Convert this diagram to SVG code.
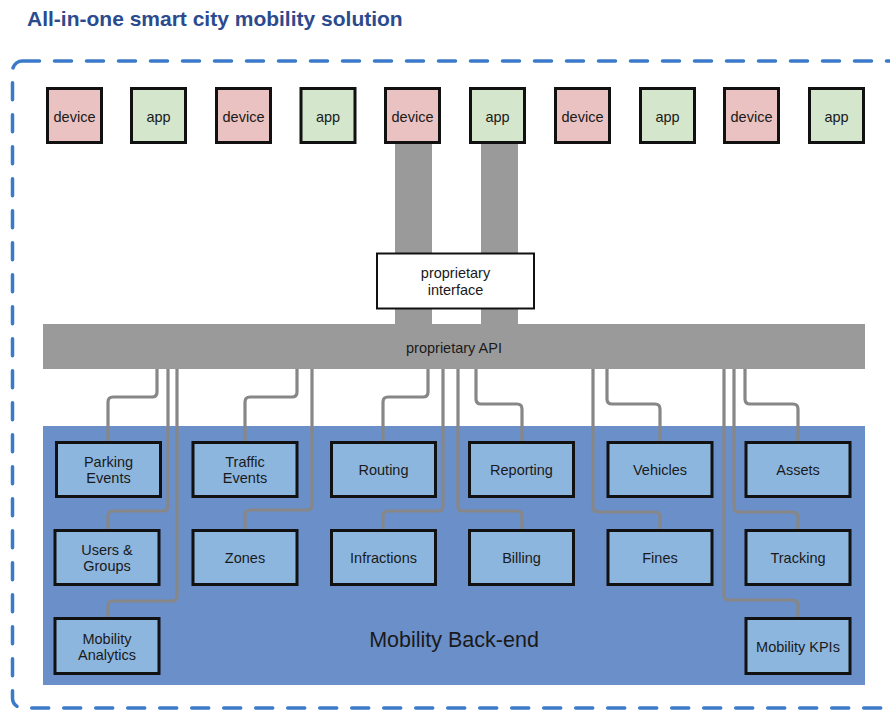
<svg xmlns="http://www.w3.org/2000/svg" width="890" height="711" viewBox="0 0 890 711">
<style>
text{font-family:"Liberation Sans",Arial,sans-serif;fill:#1a1a1a;text-anchor:middle}
.title{font-weight:bold;font-size:21px;fill:#2b4b8e;text-anchor:start}
.dev rect{fill:#eac2c1;stroke:#111;stroke-width:3}
.app rect{fill:#d4e6cb;stroke:#111;stroke-width:3}
.dev text,.app text{font-size:14.5px}
.mod rect{fill:#8db6df;stroke:#111;stroke-width:3}
.mod text{font-size:14.5px}
.bar{fill:#9a9a9a}
.conn path{fill:none;stroke:#878787;stroke-width:3.2;stroke-linecap:butt}
</style>
<rect width="890" height="711" fill="#fff"/>
<text class="title" x="27" y="26">All-in-one smart city mobility solution</text>
<rect x="12.5" y="61" width="920" height="647" rx="10" fill="none" stroke="#3b7ac9" stroke-width="3.5" stroke-linecap="round" stroke-dasharray="17 15"/>

<!-- gray trunks -->
<rect class="bar" x="395" y="144" width="37" height="182"/>
<rect class="bar" x="481" y="144" width="37" height="182"/>

<g id="n-interface">
<rect x="377" y="253.5" width="157" height="55" fill="#fff" stroke="#111" stroke-width="2"/>
<text x="455.5" y="278" font-size="14.5">proprietary</text>
<text x="455.5" y="294.5" font-size="14.5">interface</text>
</g>

<g id="n-api">
<rect class="bar" x="43" y="324" width="822" height="45"/>
<text x="454" y="353" font-size="14.5">proprietary API</text>
</g>

<g id="n-backend">
<rect x="43" y="426" width="822" height="259" fill="#6b8fc9"/>
<text x="454" y="647" font-size="21.5">Mobility Back-end</text>
</g>

<g id="n-dev1" class="dev"><rect x="47.5" y="88.5" width="54" height="54"/><text x="74.5" y="121.5">device</text></g>
<g id="n-app1" class="app"><rect x="131.5" y="88.5" width="54" height="54"/><text x="158.5" y="121.5">app</text></g>
<g id="n-dev2" class="dev"><rect x="216.5" y="88.5" width="54" height="54"/><text x="243.5" y="121.5">device</text></g>
<g id="n-app2" class="app"><rect x="301" y="88.5" width="54" height="54"/><text x="328" y="121.5">app</text></g>
<g id="n-dev3" class="dev"><rect x="385.5" y="88.5" width="54" height="54"/><text x="412.5" y="121.5">device</text></g>
<g id="n-app3" class="app"><rect x="470.5" y="88.5" width="54" height="54"/><text x="497.5" y="121.5">app</text></g>
<g id="n-dev4" class="dev"><rect x="555.5" y="88.5" width="54" height="54"/><text x="582.5" y="121.5">device</text></g>
<g id="n-app4" class="app"><rect x="640.5" y="88.5" width="54" height="54"/><text x="667.5" y="121.5">app</text></g>
<g id="n-dev5" class="dev"><rect x="724.5" y="88.5" width="54" height="54"/><text x="751.5" y="121.5">device</text></g>
<g id="n-app5" class="app"><rect x="809.5" y="88.5" width="54" height="54"/><text x="836.5" y="121.5">app</text></g>

<g id="connectors" class="conn">
<path d="M157 369V392Q157 397 152 397H113Q108 397 108 402V441"/>
<path d="M168 369V506Q168 511 163 511H113Q108 511 108 516V529"/>
<path d="M177 369V596Q177 601 172 601H113Q108 601 108 606V617"/>
<path d="M297 369V392Q297 397 292 397H250Q245 397 245 402V441"/>
<path d="M312 369V505Q312 510 307 510H250Q245 510 245 515V529"/>
<path d="M428 369V392Q428 397 423 397H388Q383 397 383 402V441"/>
<path d="M443 369V506Q443 511 438 511H388Q383 511 383 516V529"/>
<path d="M458 369V506Q458 511 463 511H517Q522 511 522 516V529"/>
<path d="M476 369V399Q476 404 481 404H517Q522 404 522 409V441"/>
<path d="M607 369V399Q607 404 612 404H655Q660 404 660 409V441"/>
<path d="M593 369V507Q593 512 598 512H655Q660 512 660 517V529"/>
<path d="M745 369V399Q745 404 750 404H793Q798 404 798 409V441"/>
<path d="M734 369V507Q734 512 739 512H793Q798 512 798 517V529"/>
<path d="M724 369V595Q724 600 729 600H793Q798 600 798 605V617"/>
</g>

<g id="n-parking" class="mod"><rect x="56.5" y="442.5" width="104" height="54"/><text x="108.5" y="467">Parking</text><text x="108.5" y="483">Events</text></g>
<g id="n-users" class="mod"><rect x="55" y="530.5" width="104" height="54"/><text x="107" y="555">Users &amp;</text><text x="107" y="571">Groups</text></g>
<g id="n-analytics" class="mod"><rect x="55" y="618.5" width="104" height="55"/><text x="107" y="644">Mobility</text><text x="107" y="659.5">Analytics</text></g>
<g id="n-traffic" class="mod"><rect x="193" y="442.5" width="104" height="54"/><text x="245" y="467">Traffic</text><text x="245" y="483">Events</text></g>
<g id="n-zones" class="mod"><rect x="193" y="530.5" width="104" height="54"/><text x="245" y="563">Zones</text></g>
<g id="n-routing" class="mod"><rect x="331.5" y="442.5" width="104" height="54"/><text x="383.5" y="475">Routing</text></g>
<g id="n-infractions" class="mod"><rect x="331.5" y="530.5" width="104" height="54"/><text x="383.5" y="563">Infractions</text></g>
<g id="n-reporting" class="mod"><rect x="469.5" y="442.5" width="104" height="54"/><text x="521.5" y="475">Reporting</text></g>
<g id="n-billing" class="mod"><rect x="469.5" y="530.5" width="104" height="54"/><text x="521.5" y="563">Billing</text></g>
<g id="n-vehicles" class="mod"><rect x="608" y="442.5" width="104" height="54"/><text x="660" y="475">Vehicles</text></g>
<g id="n-fines" class="mod"><rect x="608" y="530.5" width="104" height="54"/><text x="660" y="563">Fines</text></g>
<g id="n-assets" class="mod"><rect x="746" y="442.5" width="104" height="54"/><text x="798" y="475">Assets</text></g>
<g id="n-tracking" class="mod"><rect x="746" y="530.5" width="104" height="54"/><text x="798" y="563">Tracking</text></g>
<g id="n-kpis" class="mod"><rect x="746" y="618.5" width="104" height="55"/><text x="798" y="651.5">Mobility KPIs</text></g>
</svg>
